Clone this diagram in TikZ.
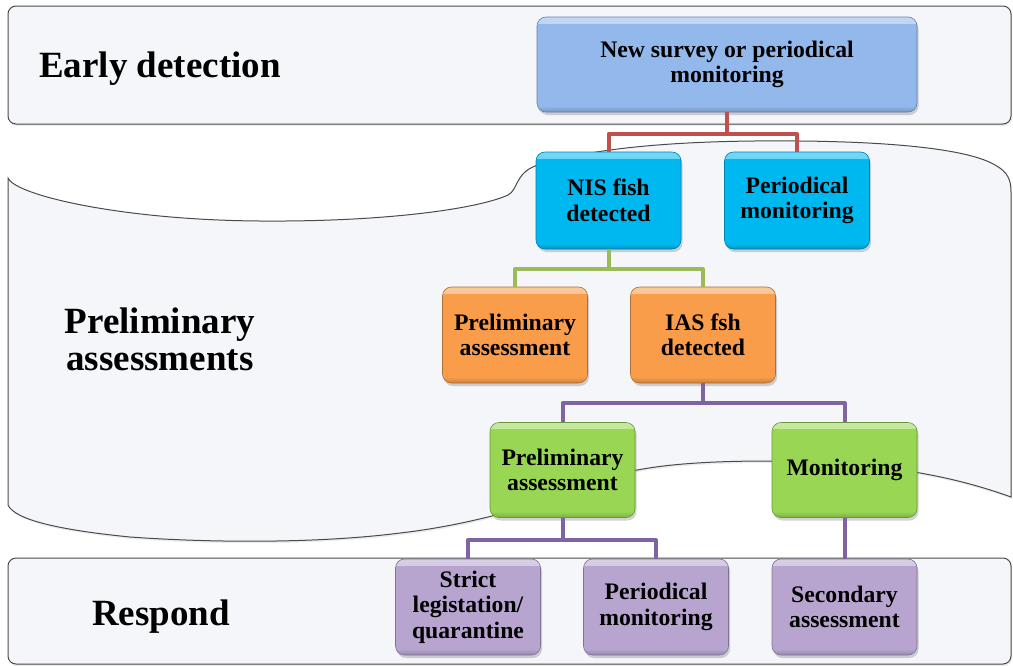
\documentclass[tikz,border=0pt]{standalone}
\usepackage{fontspec}
\setmainfont{Liberation Serif}
\usetikzlibrary{shadows}
\definecolor{cSurvey}{HTML}{93B8EC}
\definecolor{cNis}{HTML}{00B8F0}
\definecolor{cOrange}{HTML}{F99D4B}
\definecolor{cGreen}{HTML}{98D653}
\definecolor{cPurple}{HTML}{B7A5D0}
\definecolor{lRed}{HTML}{C0504D}
\definecolor{lGreen}{HTML}{9BBB59}
\definecolor{lPurple}{HTML}{8064A2}
\definecolor{bandFill}{HTML}{F4F6FA}
\definecolor{bandLine}{HTML}{4A4A4A}
\newcommand{\nodefnt}{\fontsize{23.7}{25.5}\selectfont\bfseries}
\newcommand{\bandfnt}{\fontsize{37}{37}\selectfont\bfseries}
\tikzset{
  band/.style={fill=bandFill, draw=bandLine, line width=1pt,
    drop shadow={shadow xshift=1pt, shadow yshift=-2pt, opacity=0.15}},
  box/.style={rounded corners=9pt, minimum width=145pt, minimum height=96pt,
    inner sep=0pt, align=center, font=\nodefnt, fill=#1, draw=#1!70!black, line width=0.6pt,
    drop shadow={shadow xshift=1.5pt, shadow yshift=-3pt, opacity=0.35},
    path picture={
      \shade[sharp corners, top color=#1!55!white, bottom color=#1]
        (path picture bounding box.north west) rectangle ([yshift=-6pt]path picture bounding box.north east);
      \shade[sharp corners, top color=#1, bottom color=#1!70!black, opacity=0.6]
        ([yshift=6pt]path picture bounding box.south west) rectangle (path picture bounding box.south east);
    }},
  conn/.style={line width=4pt, draw=#1, line join=round},
  blabel/.style={font=\bandfnt, inner sep=0pt, align=center}
}
\begin{document}
\begin{tikzpicture}[x=1pt, y=-1pt]
\useasboundingbox (0,0) rectangle (1013,665);
\clip (0,0) rectangle (1013,665);
% bands
\draw[band, rounded corners=8pt] (8,6) rectangle (1011,124);
\draw[band] (8,178) .. controls (15,195) and (120,220) .. (260,221)
  .. controls (390,222) and (480,208) .. (508,195)
  .. controls (518,190) and (515,174) .. (535,166)
  .. controls (600,145) and (700,140) .. (800,141)
  .. controls (900,142) and (970,150) .. (995,165)
  .. controls (1008,172) and (1011,180) .. (1011,192)
  -- (1011,497)
  .. controls (950,475) and (880,462) .. (770,461)
  .. controls (700,461) and (640,465) .. (600,480)
  .. controls (540,505) and (470,525) .. (400,533)
  .. controls (330,542) and (230,544) .. (130,537)
  .. controls (60,530) and (15,520) .. (8,505) -- cycle;
\draw[band, rounded corners=8pt] (8,558) rectangle (1011,664);
% band labels
\node[blabel, anchor=base west] (lEarly) at (39,77) {Early detection};
\node[blabel] (lPrelim) at (160,339) {Preliminary\\assessments};
\node[blabel, anchor=base] (lRespond) at (161,625) {Respond};
% junction points
\coordinate (j1) at (727,134);
\coordinate (j2) at (608.5,269);
\coordinate (j3) at (703,403);
\coordinate (j4) at (562.5,540);
% nodes
\node[box=cSurvey, minimum width=380pt, minimum height=95pt] (survey) at (727,64.5) {New survey or periodical\\monitoring};
\node[box=cNis, minimum height=97pt] (nis) at (608.5,200.5) {NIS fish\\detected};
\node[box=cNis, minimum height=97pt] (pm1) at (797,200.5) {Periodical\\monitoring};
\node[box=cOrange] (op) at (515,335) {Preliminary\\assessment};
\node[box=cOrange] (ias) at (703,335) {IAS fsh\\detected};
\node[box=cGreen, minimum height=95pt] (gp) at (562.5,470) {Preliminary\\assessment};
\node[box=cGreen, minimum height=95pt] (mon) at (844.5,470) {Monitoring};
\node[box=cPurple] (strict) at (468,607) {Strict\\legistation/\\quarantine};
\node[box=cPurple] (pm2) at (656,607) {Periodical\\monitoring};
\node[box=cPurple] (sec) at (844.5,607) {Secondary\\assessment};
% connectors
\draw[conn=lRed] (survey.south) -- (j1);
\draw[conn=lRed] (nis.north) |- (j1) -| (pm1.north);
\draw[conn=lGreen] (nis.south) -- (j2);
\draw[conn=lGreen] (op.north) |- (j2) -| (ias.north);
\draw[conn=lPurple] (ias.south) -- (j3);
\draw[conn=lPurple] (gp.north) |- (j3) -| (mon.north);
\draw[conn=lPurple] (gp.south) -- (j4);
\draw[conn=lPurple] (strict.north) |- (j4) -| (pm2.north);
\draw[conn=lPurple] (mon.south) -- (sec.north);
\end{tikzpicture}
\end{document}
